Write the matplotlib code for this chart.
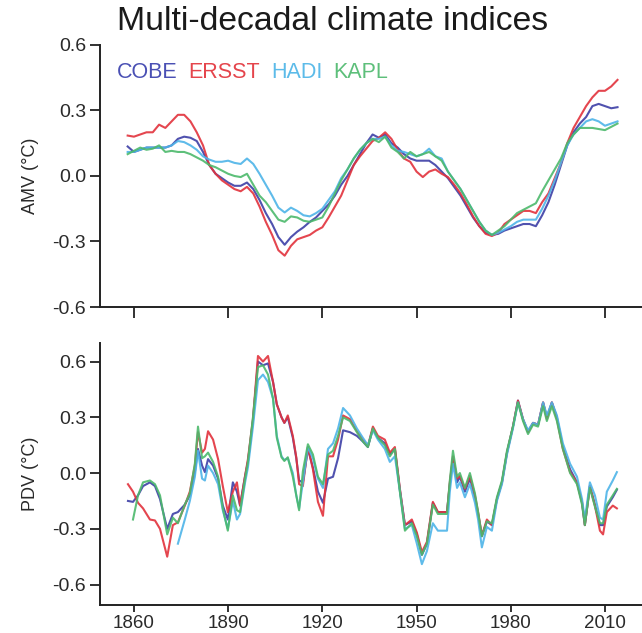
import numpy as np
import matplotlib
matplotlib.use("Agg")
import matplotlib.pyplot as plt

plt.rcParams['font.family'] = ['Liberation Sans', 'DejaVu Sans']

# ---------------- AMV data (2-year sampling) ----------------
amv_years = list(range(1858, 2015, 2))
amv_cobe = [0.135, 0.11, 0.12, 0.13, 0.13, 0.13, 0.13, 0.14, 0.17, 0.18, 0.175, 0.16, 0.11, 0.05, 0.01,
            -0.01, -0.03, -0.045, -0.045, -0.03, -0.06, -0.11, -0.17, -0.22, -0.28, -0.315, -0.28, -0.255,
            -0.235, -0.21, -0.19, -0.16, -0.13, -0.09, -0.04, 0.0, 0.05, 0.10, 0.15, 0.19, 0.175, 0.19,
            0.15, 0.13, 0.10, 0.08, 0.07, 0.07, 0.07, 0.05, 0.02, -0.01, -0.05, -0.09, -0.14, -0.19, -0.23,
            -0.26, -0.27, -0.265, -0.25, -0.24, -0.23, -0.22, -0.22, -0.23, -0.18, -0.12, -0.04, 0.05, 0.14,
            0.20, 0.24, 0.27, 0.32, 0.33, 0.32, 0.31, 0.315]
amv_ersst = [0.185, 0.18, 0.19, 0.20, 0.20, 0.235, 0.22, 0.25, 0.28, 0.28, 0.25, 0.20, 0.14, 0.05, 0.01,
             -0.02, -0.04, -0.06, -0.07, -0.05, -0.08, -0.14, -0.21, -0.27, -0.34, -0.365, -0.32, -0.29,
             -0.28, -0.27, -0.25, -0.235, -0.19, -0.14, -0.09, -0.02, 0.05, 0.09, 0.125, 0.16, 0.175, 0.20,
             0.17, 0.12, 0.08, 0.065, 0.02, -0.005, 0.02, 0.03, 0.01, -0.005, -0.04, -0.08, -0.13, -0.185,
             -0.23, -0.265, -0.275, -0.26, -0.22, -0.20, -0.18, -0.16, -0.16, -0.17, -0.12, -0.08, -0.01,
             0.06, 0.15, 0.22, 0.27, 0.32, 0.36, 0.39, 0.39, 0.41, 0.44]
amv_hadi = [0.11, 0.11, 0.12, 0.13, 0.13, 0.13, 0.13, 0.14, 0.16, 0.155, 0.14, 0.12, 0.09, 0.075, 0.065,
            0.065, 0.07, 0.06, 0.055, 0.08, 0.055, 0.01, -0.04, -0.09, -0.145, -0.167, -0.145, -0.16,
            -0.18, -0.185, -0.17, -0.15, -0.11, -0.07, -0.01, 0.03, 0.08, 0.12, 0.15, 0.17, 0.17, 0.18,
            0.14, 0.115, 0.11, 0.10, 0.09, 0.10, 0.125, 0.09, 0.08, 0.02, -0.02, -0.06, -0.11, -0.16, -0.21,
            -0.25, -0.27, -0.26, -0.245, -0.23, -0.21, -0.20, -0.20, -0.20, -0.15, -0.09, -0.02, 0.06, 0.14,
            0.19, 0.22, 0.25, 0.26, 0.25, 0.23, 0.24, 0.25]
amv_kapl = [0.10, 0.115, 0.13, 0.12, 0.125, 0.14, 0.11, 0.115, 0.11, 0.11, 0.10, 0.085, 0.07, 0.05, 0.04,
            0.025, 0.01, 0.0, -0.005, 0.01, -0.04, -0.09, -0.12, -0.16, -0.20, -0.21, -0.185, -0.19,
            -0.205, -0.21, -0.20, -0.19, -0.14, -0.08, -0.02, 0.03, 0.08, 0.12, 0.15, 0.17, 0.155, 0.18,
            0.13, 0.11, 0.08, 0.11, 0.09, 0.10, 0.11, 0.09, 0.07, 0.02, -0.02, -0.06, -0.11, -0.16, -0.21,
            -0.25, -0.27, -0.25, -0.23, -0.20, -0.17, -0.155, -0.14, -0.125, -0.07, -0.02, 0.03, 0.08, 0.15,
            0.19, 0.22, 0.22, 0.22, 0.215, 0.21, 0.225, 0.24]

# ---------------- PDV data ----------------
pdv_years = [1858.1, 1859.7, 1861.3, 1862.9, 1865.1, 1866.7, 1868.3, 1870.6, 1872.4, 1874.0,
             1876.2, 1877.8, 1879.4, 1880.4, 1881.7, 1882.6, 1883.6, 1885.2, 1886.8, 1888.3,
             1889.9, 1891.5, 1892.8, 1893.8, 1895.4, 1896.3, 1897.9, 1899.5, 1901.1, 1902.7,
             1904.3, 1905.5, 1907.0, 1907.9, 1909.0, 1910.6, 1911.7, 1912.6, 1913.8, 1915.4,
             1917.0, 1918.6, 1920.2, 1921.8, 1923.4, 1925.0, 1926.6, 1928.8, 1931.0, 1932.9,
             1934.5, 1936.1, 1937.7, 1939.9, 1941.5, 1943.1, 1944.7, 1946.3, 1948.5, 1950.1,
             1951.7, 1953.3, 1955.2, 1956.8, 1959.7, 1960.6, 1961.6, 1962.9, 1963.8, 1965.4,
             1967.0, 1968.6, 1969.6, 1970.8, 1972.4, 1974.0, 1975.6, 1977.2, 1978.8, 1980.7,
             1982.3, 1983.9, 1985.5, 1987.1, 1988.7, 1990.3, 1991.5, 1993.1, 1994.7, 1996.6,
             1998.9, 2001.1, 2002.7, 2003.6, 2005.2, 2006.8, 2008.4, 2009.4, 2010.6, 2012.5,
             2013.8]
pdv_cobe = [-0.15, -0.155, -0.12, -0.07, -0.05, -0.07, -0.14, -0.30, -0.22, -0.21,
            -0.17, -0.12, 0.005, 0.13, 0.04, 0.005, 0.075, 0.04, -0.03, -0.175,
            -0.25, -0.05, -0.10, -0.175, -0.015, 0.06, 0.28, 0.60, 0.58, 0.59,
            0.49, 0.37, 0.30, 0.27, 0.30, 0.19, 0.08, -0.04, -0.05, 0.13,
            0.03, -0.10, -0.16, -0.03, -0.02, 0.08, 0.23, 0.22, 0.20, 0.17,
            0.14, 0.24, 0.19, 0.16, 0.10, 0.13, -0.09, -0.28, -0.26, -0.33,
            -0.44, -0.38, -0.16, -0.21, -0.21, -0.06, 0.08, -0.05, -0.02, -0.10,
            -0.03, -0.13, -0.22, -0.34, -0.26, -0.28, -0.14, -0.05, 0.11, 0.25,
            0.39, 0.29, 0.22, 0.27, 0.26, 0.38, 0.30, 0.38, 0.30, 0.14,
            0.02, -0.05, -0.16, -0.28, -0.07, -0.17, -0.28, -0.28, -0.18, -0.13,
            -0.09]
pdv_ersst = [-0.06, -0.10, -0.16, -0.19, -0.25, -0.255, -0.30, -0.45, -0.28, -0.265,
             -0.175, -0.10, 0.04, 0.22, 0.11, 0.13, 0.225, 0.18, 0.075, -0.07,
             -0.21, -0.10, -0.05, -0.175, -0.015, 0.075, 0.29, 0.63, 0.60, 0.63,
             0.49, 0.37, 0.30, 0.27, 0.31, 0.20, 0.085, -0.06, -0.07, 0.14,
             0.02, -0.155, -0.23, 0.09, 0.09, 0.18, 0.31, 0.29, 0.225, 0.18,
             0.145, 0.25, 0.20, 0.18, 0.11, 0.14, -0.085, -0.28, -0.25, -0.32,
             -0.425, -0.37, -0.155, -0.21, -0.21, -0.05, 0.09, -0.03, -0.015, -0.085,
             -0.015, -0.12, -0.21, -0.335, -0.25, -0.28, -0.14, -0.05, 0.11, 0.25,
             0.39, 0.29, 0.22, 0.27, 0.26, 0.38, 0.29, 0.38, 0.29, 0.13,
             0.005, -0.05, -0.155, -0.28, -0.07, -0.175, -0.31, -0.33, -0.21, -0.175,
             -0.19]
pdv_hadi = [np.nan, np.nan, np.nan, np.nan, np.nan, np.nan, np.nan, np.nan, np.nan, -0.38,
            -0.25, -0.15, -0.02, 0.12, -0.03, -0.04, 0.04, 0.0, -0.06, -0.20,
            -0.30, -0.15, -0.25, -0.22, -0.05, 0.03, 0.25, 0.50, 0.53, 0.49,
            0.40, 0.20, 0.09, 0.07, 0.08, 0.0, -0.12, -0.19, -0.05, 0.14,
            0.08, -0.03, -0.08, 0.13, 0.16, 0.24, 0.35, 0.31, 0.24, 0.19,
            0.15, 0.23, 0.18, 0.13, 0.06, 0.09, -0.10, -0.30, -0.28, -0.38,
            -0.49, -0.42, -0.27, -0.31, -0.31, -0.10, 0.05, -0.08, -0.05, -0.13,
            -0.06, -0.16, -0.25, -0.40, -0.29, -0.31, -0.15, -0.06, 0.10, 0.24,
            0.38, 0.29, 0.23, 0.27, 0.26, 0.38, 0.31, 0.38, 0.31, 0.16,
            0.05, -0.02, -0.14, -0.25, -0.05, -0.12, -0.24, -0.25, -0.10, -0.04,
            0.005]
pdv_kapl = [np.nan, -0.25, -0.12, -0.05, -0.04, -0.06, -0.12, -0.33, -0.24, -0.27,
            -0.17, -0.11, 0.05, 0.25, 0.08, 0.09, 0.11, 0.06, -0.02, -0.19,
            -0.31, -0.12, -0.20, -0.21, -0.03, 0.06, 0.30, 0.57, 0.58, 0.53,
            0.40, 0.19, 0.085, 0.065, 0.085, -0.02, -0.12, -0.20, 0.01, 0.155,
            0.10, -0.02, -0.06, 0.10, 0.12, 0.20, 0.30, 0.28, 0.22, 0.17,
            0.14, 0.24, 0.19, 0.15, 0.09, 0.13, -0.10, -0.31, -0.27, -0.34,
            -0.44, -0.38, -0.17, -0.22, -0.22, -0.04, 0.12, -0.02, 0.0, -0.08,
            0.0, -0.11, -0.21, -0.34, -0.26, -0.27, -0.13, -0.04, 0.12, 0.25,
            0.38, 0.28, 0.21, 0.26, 0.25, 0.36, 0.28, 0.36, 0.28, 0.13,
            0.0, -0.06, -0.17, -0.28, -0.08, -0.18, -0.27, -0.27, -0.17, -0.12,
            -0.085]

names = ["COBE", "ERSST", "HADI", "KAPL"]
line_colors = ["#3d3fa6", "#e2323c", "#4db4e8", "#4cb96c"]
text_colors = ["#4a50b4", "#e5454c", "#5cbbe9", "#5dbf7a"]

x_ticks = [1860, 1890, 1920, 1950, 1980, 2010]
amv_yticks = [-0.6, -0.3, 0.0, 0.3, 0.6]
pdv_yticks = [-0.6, -0.3, 0.0, 0.3, 0.6]

fig = plt.figure(figsize=(6.42, 6.33), dpi=100)
ax1 = fig.add_axes([0.1558, 0.515, 0.8442, 0.414])
ax2 = fig.add_axes([0.1558, 0.0442, 0.8442, 0.414])

txtc = "#2a2a2a"
for ax in (ax1, ax2):
    for s in ("top", "right"):
        ax.spines[s].set_visible(False)
    for s in ("left", "bottom"):
        ax.spines[s].set_linewidth(1.4)
        ax.spines[s].set_color("#222222")
    ax.set_xlim(1849.2, 2021.8)
    ax.set_xticks(x_ticks)
    ax.tick_params(axis="both", direction="out", width=1.3, colors="#222222",
                   labelsize=14, labelcolor=txtc)
    ax.tick_params(axis="y", length=7, pad=3)

ax1.tick_params(axis="x", length=8, labelbottom=False)
ax2.tick_params(axis="x", length=5, pad=2, labelsize=13.5)

amv_series = [amv_cobe, amv_ersst, amv_hadi, amv_kapl]
pdv_series = [pdv_cobe, pdv_ersst, pdv_hadi, pdv_kapl]
for vals, c in zip(amv_series, line_colors):
    ax1.plot(amv_years, vals, color=c, lw=1.5, alpha=0.9)
for vals, c in zip(pdv_series, line_colors):
    ax2.plot(pdv_years, vals, color=c, lw=1.5, alpha=0.9)

ax1.set_ylim(-0.6, 0.6)
ax1.set_yticks(amv_yticks)
ax1.set_yticklabels([f"{v:.1f}" for v in amv_yticks])
ax1.set_ylabel("AMV (°C)", fontsize=13, color=txtc, labelpad=10)

ax2.set_ylim(-0.71, 0.70)
ax2.set_yticks(pdv_yticks)
ax2.set_yticklabels([f"{v:.1f}" for v in pdv_yticks])
ax2.set_ylabel("PDV (°C)", fontsize=13, color=txtc, labelpad=10)

fig.text(117 / 642, 1 - 21 / 633, "Multi-decadal climate indices", fontsize=24.3, color="#1a1a1a",
         ha="left", va="center")

# coloured-text legend
xpos = 117
for n, c in zip(names, text_colors):
    t = fig.text(xpos / 642, 1 - 73 / 633, n, fontsize=15.5, color=c, ha="left", va="center")
    fig.canvas.draw()
    bb = t.get_window_extent()
    xpos = bb.x1 + 11

fig.savefig("out.png", dpi=100)
